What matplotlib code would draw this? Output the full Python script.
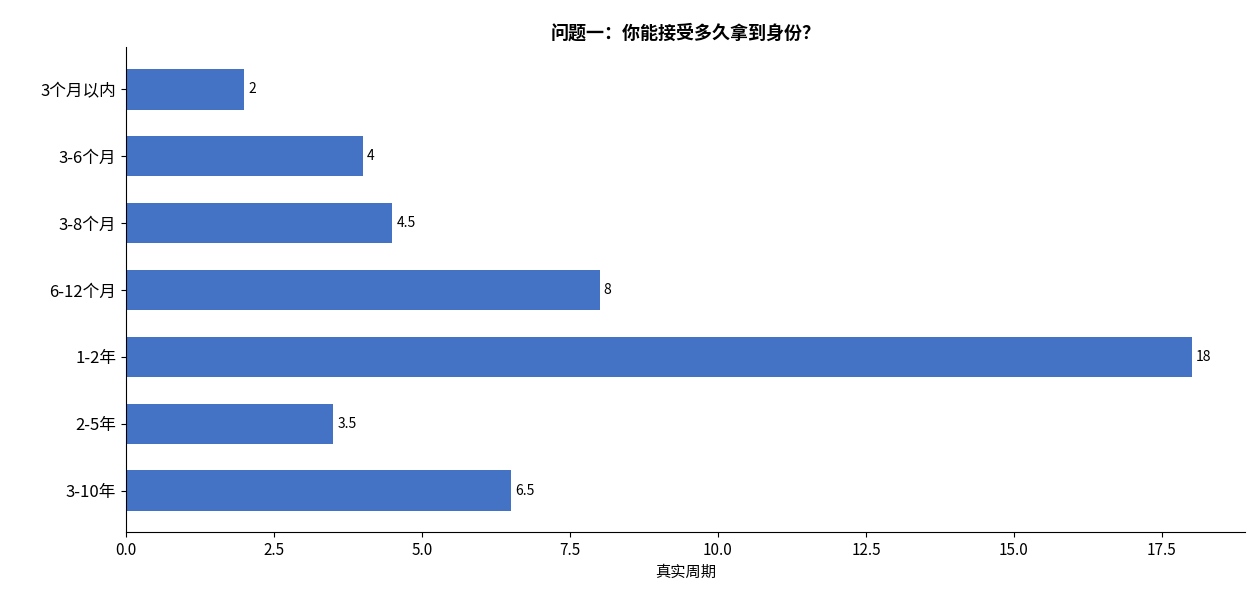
import matplotlib

matplotlib.use("Agg")

import matplotlib.pyplot as plt

plt.rcParams["font.family"] = ["Noto Sans CJK SC", "DejaVu Sans"]

categories = ["3个月以内", "3-6个月", "3-8个月", "6-12个月", "1-2年", "2-5年", "3-10年"]
values = [2, 4, 4.5, 8, 18, 3.5, 6.5]
value_labels = ["2", "4", "4.5", "8", "18", "3.5", "6.5"]

fig, ax = plt.subplots(figsize=(12.6, 6.15), dpi=100)
fig.subplots_adjust(left=0.1, right=0.988, top=0.923, bottom=0.135)

positions = list(range(len(categories)))
bars = ax.barh(positions, values, height=0.6, color="#4472C4")
ax.bar_label(bars, labels=value_labels, padding=3, fontsize=10)

ax.set_yticks(positions)
ax.set_yticklabels(categories, fontsize=12)
ax.set_ylim(len(categories) - 1 + 0.62, -0.63)
ax.set_xlim(0, 18.9)
ax.tick_params(axis="x", labelsize=11)
ax.set_xlabel("真实周期", fontsize=11)
ax.set_title("问题一：你能接受多久拿到身份？", fontsize=13, fontweight="bold")

ax.spines["top"].set_visible(False)
ax.spines["right"].set_visible(False)

fig.savefig("out.png", dpi=100)
